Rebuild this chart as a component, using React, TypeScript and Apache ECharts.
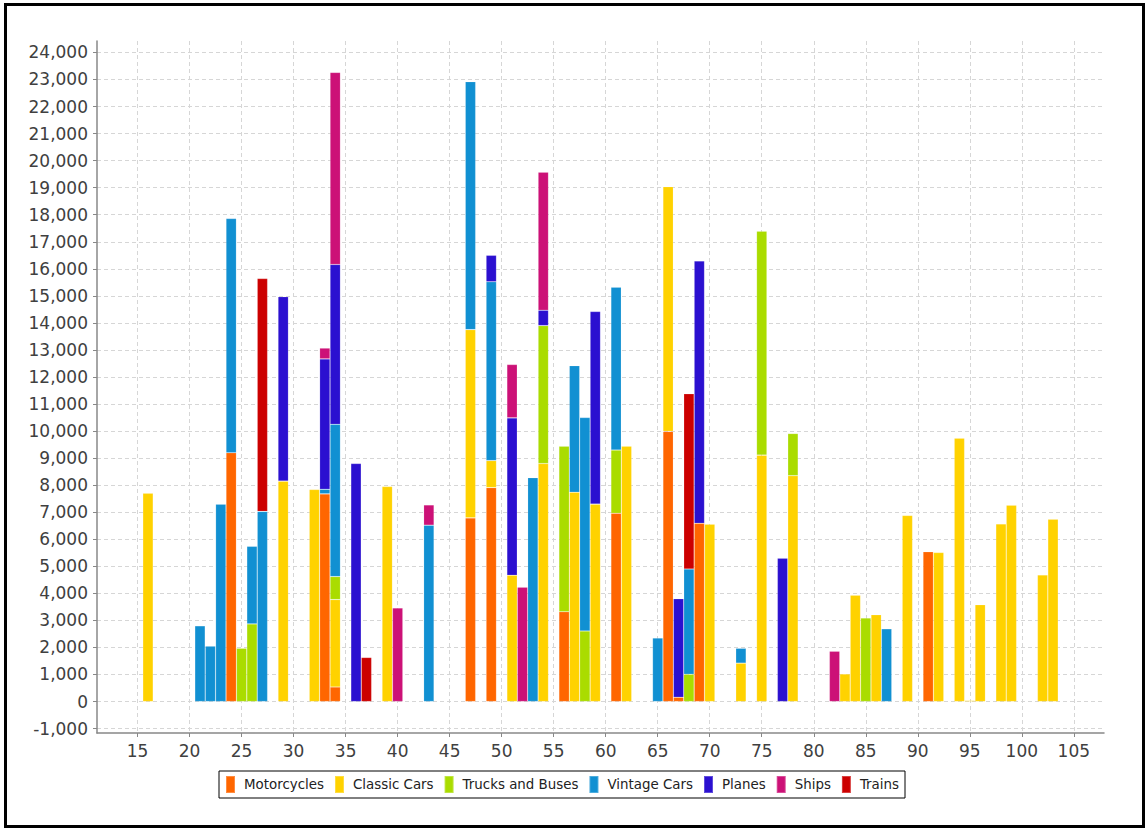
import React, { useEffect, useRef } from "react";
import * as echarts from "echarts";

const seriesNames = ["Motorcycles", "Classic Cars", "Trucks and Buses", "Vintage Cars", "Planes", "Ships", "Trains"];
const seriesColors = ["#FF6600", "#FFD200", "#AADC00", "#1190D2", "#2B10D0", "#CC1177", "#CC0000"];

const motorcycles: [number, number][] = [
  [24, 9200], [33, 7680], [34, 540], [47, 6790], [49, 7910], [56, 3320], [61, 6960],
  [66, 9990], [67, 160], [69, 6590], [91, 5540],
];
const classicCars: [number, number][] = [
  [16, 7700], [29, 8150], [32, 7840], [34, 3230], [39, 7950], [47, 6960], [49, 1000],
  [51, 4670], [54, 8800], [57, 7740], [59, 7300], [62, 9440], [66, 9050], [70, 6560],
  [73, 1420], [75, 9110], [78, 8350], [83, 1020], [84, 3930], [86, 3210], [89, 6880],
  [92, 5510], [94, 9740], [95, 40], [96, 3580], [98, 6570], [99, 7260], [102, 4680], [103, 6740],
];
const trucksAndBuses: [number, number][] = [
  [25, 1970], [26, 2870], [34, 850], [54, 5100], [56, 6120], [58, 2610], [61, 2340],
  [68, 1010], [75, 8280], [78, 1560], [85, 3090],
];
const vintageCars: [number, number][] = [
  [21, 2800], [22, 2050], [23, 7300], [24, 8660], [26, 2870], [27, 7030], [33, 170],
  [34, 5630], [43, 6520], [47, 9170], [49, 6610], [53, 8280], [57, 4680], [58, 7890],
  [61, 6020], [65, 2350], [68, 3890], [73, 550], [87, 2690],
];
const planes: [number, number][] = [
  [29, 6820], [33, 4820], [34, 5910], [36, 8800], [49, 980], [51, 5820], [54, 570],
  [59, 7120], [67, 3640], [69, 9700], [77, 5300],
];
const ships: [number, number][] = [
  [33, 400], [34, 7100], [40, 3460], [43, 750], [51, 1970], [52, 4230], [54, 5100], [82, 1860],
];
const trains: [number, number][] = [
  [27, 8610], [37, 1630], [68, 6480],
];

const xTicks = [15, 20, 25, 30, 35, 40, 45, 50, 55, 60, 65, 70, 75, 80, 85, 90, 95, 100, 105];
const yTicks = [-1000, 0, 1000, 2000, 3000, 4000, 5000, 6000, 7000, 8000, 9000, 10000, 11000, 12000,
  13000, 14000, 15000, 16000, 17000, 18000, 19000, 20000, 21000, 22000, 23000, 24000];

export default function App() {
  const ref = useRef<HTMLDivElement>(null);
  useEffect(() => {
    document.body.style.margin = "0";
    const chart = echarts.init(ref.current!, null, { renderer: "svg" });
    const all = [motorcycles, classicCars, trucksAndBuses, vintageCars, planes, ships, trains];
    const xsAll = all.flat().map((p) => p[0]);
    const xFirst = Math.min(...xsAll);
    const xLast = Math.max(...xsAll);
    const xLo = xFirst - 0.5;
    const xHi = xLast + 0.5;
    const xSpan = xHi - xLo;
    const xMin = xLo - 0.05 * xSpan;
    const xMax = xHi + 0.05 * xSpan;
    const totals = new Map<number, number>();
    all.forEach((s) => s.forEach(([x, y]) => totals.set(x, (totals.get(x) || 0) + y)));
    const yTop = Math.max(...Array.from(totals.values()));
    const yMin = -0.05 * yTop;
    const yMax = yTop * 1.05;

    const W = 1146;
    const gridLeft = 97, gridRight = 42, gridTop = 41, gridBottom = 96;
    const plotW = W - gridLeft - gridRight;
    const unit = plotW / (xMax - xMin);
    const marginPx = 0.05 * xSpan * unit;

    // one category per integer x, so ECharts can stack the bars by index
    const cats: number[] = [];
    for (let x = xFirst; x <= xLast; x++) cats.push(x);
    const aligned = all.map((s) => {
      const m = new Map(s);
      return cats.map((x) => (m.has(x) ? m.get(x)! : "-"));
    });

    const gridLine = { show: true, lineStyle: { color: "#d6d6d6", type: [4, 3] as any, width: 1 } };
    const labelStyle = { fontFamily: "DejaVu Sans", fontSize: 17, color: "#404040" };

    chart.setOption({
      animation: false,
      backgroundColor: "#ffffff",
      color: seriesColors,
      grid: [
        { left: gridLeft, right: gridRight, top: gridTop, bottom: gridBottom, containLabel: false },
        { left: gridLeft + marginPx, right: gridRight + marginPx, top: gridTop, bottom: gridBottom, containLabel: false },
      ],
      legend: {
        data: seriesNames,
        left: 219,
        top: 771,
        orient: "horizontal",
        icon: "rect",
        itemWidth: 9,
        itemHeight: 17,
        itemGap: 10,
        padding: [4, 6, 4, 6],
        borderColor: "#000000",
        borderWidth: 1,
        textStyle: { fontFamily: "DejaVu Sans", fontSize: 13.4, color: "#222222", padding: [0, 0, 0, 4] },
      },
      xAxis: [
        {
          type: "value",
          gridIndex: 0,
          min: xMin,
          max: xMax,
          axisLine: { show: true, onZero: false, lineStyle: { color: "#888888", width: 1.5 } },
          axisTick: { show: true, length: 4, customValues: xTicks, lineStyle: { color: "#888888" } },
          axisLabel: { customValues: xTicks, margin: 9, ...labelStyle },
          splitLine: gridLine,
        },
        {
          type: "category",
          gridIndex: 1,
          data: cats.map(String),
          boundaryGap: true,
          show: false,
        },
      ],
      yAxis: [
        {
          type: "value",
          gridIndex: 0,
          min: yMin,
          max: yMax,
          axisLine: { show: true, onZero: false, lineStyle: { color: "#888888", width: 1.5 } },
          axisTick: { show: true, length: 4, customValues: yTicks, lineStyle: { color: "#888888" } },
          axisLabel: {
            customValues: yTicks,
            margin: 9,
            formatter: (v: number) => Math.round(v).toLocaleString("en-US"),
            ...labelStyle,
          },
          splitLine: gridLine,
        },
        {
          type: "value",
          gridIndex: 1,
          min: yMin,
          max: yMax,
          show: false,
          splitLine: { show: false },
        },
      ],
      graphic: [
        {
          type: "rect",
          shape: { x: 5.5, y: 4.5, width: 1138, height: 822 },
          style: { fill: "none", stroke: "#000000", lineWidth: 3 },
          silent: true,
          z: 100,
        },
      ],
      series: aligned.map((data, i) => ({
        name: seriesNames[i],
        type: "bar",
        stack: "total",
        xAxisIndex: 1,
        yAxisIndex: 1,
        barWidth: unit,
        data,
        itemStyle: { color: seriesColors[i], borderColor: "rgba(255,255,255,0.25)", borderWidth: 0.6 },
      })),
    });
    return () => chart.dispose();
  }, []);
  return <div ref={ref} style={{ width: 1146, height: 829 }} />;
}
